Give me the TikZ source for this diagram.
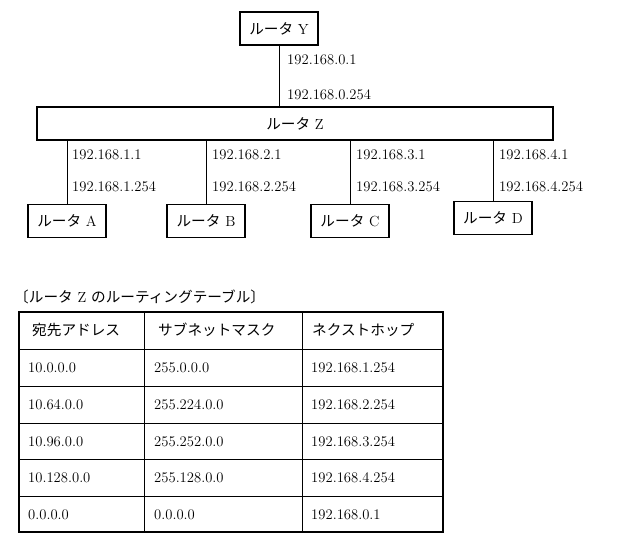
\documentclass[tikz,border=0pt]{standalone}
\usepackage{fontspec}
\newfontfamily\jpfont{Noto Sans CJK JP}
\newcommand{\jp}[1]{{\jpfont #1}}
\begin{document}
\begin{tikzpicture}[x=0.03cm,y=-0.03cm,
	font=\fontsize{12.5}{15}\selectfont,
	router/.style={draw,line width=0.9pt,minimum height=0.99cm,inner sep=0pt},
	addr/.style={anchor=west,inner sep=0pt},
	cell/.style={anchor=west,inner sep=0pt},
	link/.style={line width=0.8pt}]

  \useasboundingbox (0,0) rectangle (620,542);

  % routers
  \node [router,minimum width=2.34cm] (ry) at (279,28.5) {\jp{ルータ} Y};
  \node [router,minimum width=15.48cm] (rz) at (295,123.5) {\jp{ルータ} Z};
  \node [router,minimum width=2.34cm] (ra) at (67,221) {\jp{ルータ} A};
  \node [router,minimum width=2.34cm] (rb) at (206,221) {\jp{ルータ} B};
  \node [router,minimum width=2.34cm] (rc) at (350,221) {\jp{ルータ} C};
  \node [router,minimum width=2.34cm] (rd) at (493,218) {\jp{ルータ} D};

  \draw [link] (ry.south) -- (rz.north -| ry.south);
  \node [addr] (y1) at (287,60) {192.168.0.1};
  \node [addr] (y2) at (287,95) {192.168.0.254};

  \foreach \r/\n/\x in {ra/1/66,rb/2/206,rc/3/350,rd/4/493}{
	  \draw [link] (\r.north) -- (\r.north |- rz.south);
	  \node [addr] (a\n1) at (\x+6,155) {192.168.\n.1};
	  \node [addr] (a\n2) at (\x+6,187) {192.168.\n.254};
  }

  % table
  \node [anchor=west,inner sep=0pt] (cap) at (14,297) {\jp{〔ルータ} Z \jp{のルーティングテーブル〕}};
  \draw [line width=0.9pt] (19,312) rectangle (443,532);
  \foreach \y in {349,386,423,459,496}
	  \draw [link] (19,\y) -- (443,\y);
  \foreach \x in {144,302}
	  \draw [link] (\x,312) -- (\x,532);

  \node [cell] (h1) at (32,330) {\jp{宛先アドレス}};
  \node [cell] (h2) at (158,330) {\jp{サブネットマスク}};
  \node [cell] (h3) at (312,330) {\jp{ネクストホップ}};
  \foreach \d/\m/\h [count=\k] in {10.0.0.0/255.0.0.0/192.168.1.254,
	  10.64.0.0/255.224.0.0/192.168.2.254,
	  10.96.0.0/255.252.0.0/192.168.3.254,
	  10.128.0.0/255.128.0.0/192.168.4.254,
	  0.0.0.0/0.0.0.0/192.168.0.1}{
	  \node [cell] (d\k) at (28,331+36.8*\k) {\d};
	  \node [cell] (m\k) at (154,331+36.8*\k) {\m};
	  \node [cell] (n\k) at (311,331+36.8*\k) {\h};
  }
\end{tikzpicture}
\end{document}
